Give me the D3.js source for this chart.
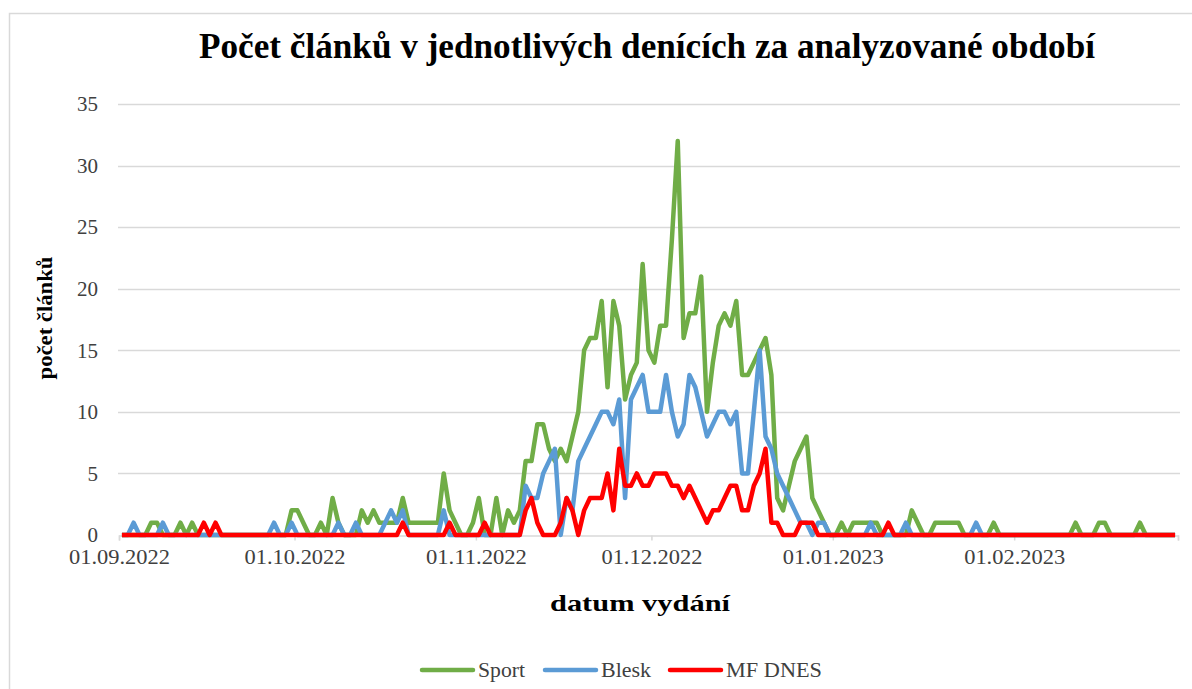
<!DOCTYPE html>
<html>
<head>
<meta charset="utf-8">
<script src="https://cdn.jsdelivr.net/npm/d3@7"></script>
<style>
  body { margin: 0; background: #fff; }
  svg { display: block; }
</style>
</head>
<body>
<svg id="chart" width="1192" height="689"></svg>
<script>
// daily article counts, 01.09.2022 .. 28.02.2023
const firstDay = Date.UTC(2022, 8, 1);

const sport = [
  // Sep
  0,0,0,0,0,1,1,0,0,0, 1,0,1,0,0,0,0,0,0,0, 0,0,0,0,0,0,0,0,0,2,
  // Oct
  2,1,0,0,1,0,3,1,0,0, 0,2,1,2,1,1,1,1,3,1, 1,1,1,1,1,5,2,1,0,0, 1,
  // Nov
  3,0,0,3,0,2,1,2,6,6, 9,9,7,6,7,6,8,10,15,16, 16,19,12,19,17,11,13,14,22,15,
  // Dec
  14,17,17,24,32,16,18,18,21,10, 14,17,18,17,19,13,13,14,15,16, 13,3,2,4,6,7,8,3,2,1, 0,
  // Jan
  0,1,0,1,1,1,1,1,0,0, 0,0,0,2,1,0,0,1,1,1, 1,1,0,0,0,0,0,1,0,0, 0,
  // Feb
  0,0,0,0,0,0,0,0,0,0, 1,0,0,0,1,1,0,0,0,0, 0,1,0,0,0,0,0,0
];

const blesk = [
  // Sep
  0,0,1,0,0,0,0,1,0,0, 0,0,0,0,0,0,0,0,0,0, 0,0,0,0,0,0,1,0,0,1,
  // Oct
  0,0,0,0,0,0,0,1,0,0, 1,0,0,0,0,1,2,1,2,0, 0,0,0,0,0,2,0,0,0,0, 0,
  // Nov
  0,0,0,0,0,0,0,0,4,3, 3,5,6,7,0,3,2,6,7,8, 9,10,10,9,11,3,11,12,13,10,
  // Dec
  10,10,13,10,8,9,13,12,10,8, 9,10,10,9,10,5,5,10,15,8, 7,5,4,3,2,1,1,0,1,1, 0,
  // Jan
  0,0,0,0,0,0,1,0,0,0, 0,0,1,0,0,0,0,0,0,0, 0,0,0,0,1,0,0,0,0,0, 0,
  // Feb
  0,0,0,0,0,0,0,0,0,0, 0,0,0,0,0,0,0,0,0,0, 0,0,0,0,0,0,0,0
];

const mfDnes = [
  // Sep
  0,0,0,0,0,0,0,0,0,0, 0,0,0,0,1,0,1,0,0,0, 0,0,0,0,0,0,0,0,0,0,
  // Oct
  0,0,0,0,0,0,0,0,0,0, 0,0,0,0,0,0,0,0,1,0, 0,0,0,0,0,0,1,0,0,0, 0,
  // Nov
  0,1,0,0,0,0,0,0,2,3, 1,0,0,0,1,3,2,0,2,3, 3,3,5,2,7,4,4,5,4,4,
  // Dec
  5,5,5,4,4,3,4,3,2,1, 2,2,3,4,4,2,2,4,5,7, 1,1,0,0,0,1,1,1,0,0, 0,
  // Jan
  0,0,0,0,0,0,0,0,0,1, 0,0,0,0,0,0,0,0,0,0, 0,0,0,0,0,0,0,0,0,0, 0,
  // Feb
  0,0,0,0,0,0,0,0,0,0, 0,0,0,0,0,0,0,0,0,0, 0,0,0,0,0,0,0,0
];

const seriesNames = ['Sport', 'Blesk', 'MF DNES'];
const seriesColors = ['#70AD47', '#5B9BD5', '#FF0000'];
const yTicks = [0, 5, 10, 15, 20, 25, 30, 35];

const serif = '"Liberation Serif", "Times New Roman", "DejaVu Serif", serif';
const svg = d3.select('#chart');

// outer chart frame
svg.append('rect')
  .attr('x', 9.5).attr('y', 13.5)
  .attr('width', 1200).attr('height', 700)
  .attr('fill', '#fff').attr('stroke', '#d9d9d9').attr('stroke-width', 1.5);

const x = d3.scaleUtc()
  .domain([new Date(firstDay), new Date(Date.UTC(2023, 2, 1))])
  .range([119, 1178]);

const y = d3.scaleLinear().domain([0, 35]).range([535, 104]);

// gridlines
svg.append('g')
  .selectAll('line')
  .data(yTicks.slice(1))
  .enter()
  .append('line')
  .attr('x1', 118).attr('x2', 1180)
  .attr('y1', d => Math.round(y(d)) + 0.5)
  .attr('y2', d => Math.round(y(d)) + 0.5)
  .attr('stroke', '#d9d9d9').attr('stroke-width', 1.3);

// y axis labels
const yAxis = svg.append('g')
  .attr('transform', 'translate(118,0)')
  .attr('font-family', serif)
  .call(d3.axisLeft(y).tickValues(yTicks).tickSize(0).tickPadding(20));
yAxis.attr('font-family', serif);
yAxis.select('.domain').remove();
yAxis.selectAll('text')
  .style('font-family', serif)
  .style('font-size', '21px').attr('fill', '#404040');

// x axis
const months = d3.utcMonth.range(new Date(firstDay), new Date(Date.UTC(2023, 2, 2)));
const xAxis = svg.append('g')
  .attr('transform', 'translate(0,' + (y(0) + 0.5) + ')')
  .call(d3.axisBottom(x).tickValues(months).tickSize(5).tickPadding(9)
    .tickFormat(d => d < Date.UTC(2023, 2, 1) ? d3.utcFormat('%d.%m.%Y')(d) : ''));
xAxis.attr('font-family', serif);
xAxis.select('.domain').attr('stroke', '#d9d9d9').attr('stroke-width', 1.5);
xAxis.selectAll('.tick line').attr('stroke', '#d9d9d9').attr('stroke-width', 1.5);
xAxis.selectAll('text')
  .style('font-family', serif)
  .style('font-size', '21px').attr('fill', '#404040')
  .filter(d => d < Date.UTC(2023, 2, 1))
  .attr('textLength', 101).attr('lengthAdjust', 'spacingAndGlyphs');

// series lines, points in the middle of each day
const line = d3.line()
  .x((d, i) => x(new Date(firstDay + (i + 0.5) * 864e5)))
  .y(d => y(d));

[sport, blesk, mfDnes].forEach((values, k) => {
  svg.append('path')
    .datum(values)
    .attr('d', line)
    .attr('fill', 'none')
    .attr('stroke', seriesColors[k])
    .attr('stroke-width', 4.5)
    .attr('stroke-linejoin', 'round');
});

// titles
svg.append('text')
  .attr('x', 647).attr('y', 58)
  .attr('text-anchor', 'middle')
  .style('font-family', serif)
  .style('font-size', '35px').style('font-weight', 'bold')
  .attr('textLength', 896).attr('lengthAdjust', 'spacingAndGlyphs')
  .text('Počet článků v jednotlivých denících za analyzované období');

svg.append('text')
  .attr('x', 640).attr('y', 611)
  .attr('text-anchor', 'middle')
  .style('font-family', serif)
  .style('font-size', '23px').style('font-weight', 'bold')
  .attr('textLength', 180).attr('lengthAdjust', 'spacingAndGlyphs')
  .text('datum vydání');

svg.append('text')
  .attr('transform', 'translate(52,318) rotate(-90)')
  .attr('text-anchor', 'middle')
  .style('font-family', serif)
  .style('font-size', '22px').style('font-weight', 'bold')
  .attr('textLength', 123).attr('lengthAdjust', 'spacingAndGlyphs')
  .text('počet článků');

// legend
const legend = svg.append('g').attr('transform', 'translate(0,670)');
const legendX = [422, 545, 670];
const legendWidths = [47, 50, 96];
seriesNames.forEach((name, k) => {
  legend.append('line')
    .attr('x1', legendX[k]).attr('x2', legendX[k] + 51)
    .attr('y1', 0).attr('y2', 0)
    .attr('stroke', seriesColors[k]).attr('stroke-width', 4.5)
    .attr('stroke-linecap', 'round');
  legend.append('text')
    .attr('x', legendX[k] + 56).attr('y', 6.5)
    .style('font-family', serif)
    .style('font-size', '20px').attr('fill', '#404040')
    .attr('textLength', legendWidths[k]).attr('lengthAdjust', 'spacingAndGlyphs')
    .text(name);
});
</script>
</body>
</html>
